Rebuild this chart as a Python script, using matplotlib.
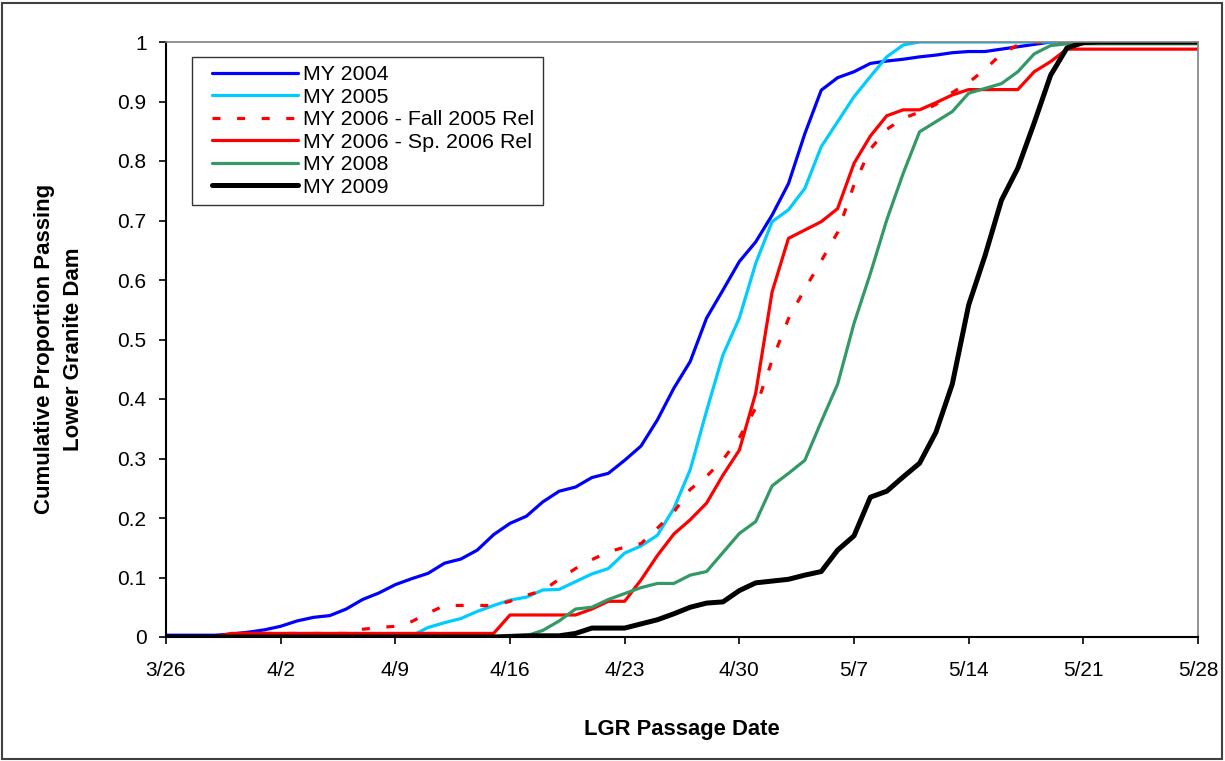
import matplotlib
matplotlib.use("Agg")
import matplotlib.pyplot as plt
from matplotlib.patches import Rectangle
from matplotlib.lines import Line2D
from matplotlib.legend_handler import HandlerLine2D

plt.rcParams['font.family'] = ['Liberation Sans', 'DejaVu Sans']

# Day index 0 = 3/26 ... 63 = 5/28
days = list(range(64))
tick_days = [0, 7, 14, 21, 28, 35, 42, 49, 56, 63]
tick_labels = ["3/26", "4/2", "4/9", "4/16", "4/23", "4/30", "5/7", "5/14", "5/21", "5/28"]
y_ticks = [0, 0.1, 0.2, 0.3, 0.4, 0.5, 0.6, 0.7, 0.8, 0.9, 1.0]
y_tick_labels = ["0", "0.1", "0.2", "0.3", "0.4", "0.5", "0.6", "0.7", "0.8", "0.9", "1"]

my2004 = [0.003, 0.003, 0.003, 0.003, 0.005, 0.008, 0.012, 0.018, 0.027, 0.033,
          0.036, 0.047, 0.063, 0.074, 0.088, 0.098, 0.107, 0.124, 0.131, 0.146,
          0.172, 0.191, 0.203, 0.227, 0.245, 0.252, 0.268, 0.275, 0.297, 0.321,
          0.365, 0.418, 0.463, 0.536, 0.583, 0.631, 0.664, 0.709, 0.762, 0.846,
          0.919, 0.940, 0.950, 0.964, 0.968, 0.971, 0.975, 0.978, 0.982, 0.984,
          0.984, 0.988, 0.992, 0.996, 1.0, 1.0, 1.0, 1.0, 1.0, 1.0,
          1.0, 1.0, 1.0, 1.0]

my2005 = [0, 0, 0, 0, 0, 0, 0, 0, 0, 0,
          0, 0, 0, 0, 0, 0.002, 0.016, 0.024, 0.031, 0.043,
          0.053, 0.062, 0.067, 0.079, 0.080, 0.093, 0.106, 0.115, 0.141, 0.153,
          0.171, 0.216, 0.281, 0.380, 0.474, 0.536, 0.628, 0.698, 0.718, 0.754,
          0.824, 0.866, 0.908, 0.942, 0.975, 0.995, 1.0, 1.0, 1.0, 1.0,
          1.0, 1.0, 1.0, 1.0, 1.0, 1.0, 1.0, 1.0, 1.0, 1.0,
          1.0, 1.0, 1.0, 1.0]

my2006_fall = [0, 0, 0, 0, 0.006, 0.006, 0.006, 0.006, 0.006, 0.006,
               0.006, 0.006, 0.013, 0.016, 0.018, 0.026, 0.040, 0.053, 0.053, 0.053,
               0.053, 0.060, 0.070, 0.078, 0.097, 0.115, 0.130, 0.143, 0.151, 0.157,
               0.183, 0.210, 0.248, 0.270, 0.298, 0.335, 0.385, 0.465, 0.535, 0.585,
               0.632, 0.680, 0.760, 0.820, 0.853, 0.872, 0.882, 0.895, 0.915, 0.932,
               0.954, 0.980, 0.995, 1.0, 1.0, 1.0, 1.0, 1.0, 1.0, 1.0,
               1.0, 1.0, 1.0, 1.0]

my2006_spring = [0, 0, 0, 0, 0.006, 0.006, 0.006, 0.006, 0.006, 0.006,
                 0.006, 0.006, 0.006, 0.006, 0.006, 0.006, 0.006, 0.006, 0.006, 0.006,
                 0.006, 0.037, 0.037, 0.037, 0.037, 0.037, 0.047, 0.060, 0.060, 0.096,
                 0.137, 0.173, 0.197, 0.225, 0.272, 0.314, 0.410, 0.580, 0.670, 0.684,
                 0.698, 0.720, 0.796, 0.842, 0.876, 0.886, 0.886, 0.898, 0.911, 0.920,
                 0.920, 0.920, 0.920, 0.950, 0.967, 0.988, 0.988, 0.988, 0.988, 0.988,
                 0.988, 0.988, 0.988, 0.988]

my2008 = [0, 0, 0, 0, 0, 0, 0, 0, 0, 0,
          0, 0, 0, 0, 0, 0, 0, 0, 0, 0,
          0, 0, 0.002, 0.011, 0.027, 0.047, 0.050, 0.063, 0.073, 0.083,
          0.090, 0.090, 0.104, 0.110, 0.142, 0.174, 0.194, 0.254, 0.275, 0.297,
          0.362, 0.425, 0.527, 0.611, 0.701, 0.779, 0.849, 0.866, 0.883, 0.914,
          0.922, 0.930, 0.950, 0.980, 0.994, 0.997, 0.997, 0.997, 0.997, 0.997,
          0.997, 0.997, 0.997, 0.997]

my2009 = [0, 0, 0, 0, 0, 0, 0, 0, 0, 0,
          0, 0, 0, 0, 0, 0, 0, 0, 0, 0,
          0, 0.001, 0.002, 0.002, 0.002, 0.006, 0.015, 0.015, 0.015, 0.022,
          0.029, 0.039, 0.050, 0.057, 0.059, 0.078, 0.091, 0.094, 0.097, 0.104,
          0.110, 0.146, 0.170, 0.235, 0.245, 0.269, 0.292, 0.344, 0.425, 0.558,
          0.641, 0.734, 0.788, 0.864, 0.944, 0.990, 0.999, 1.0, 1.0, 1.0,
          1.0, 1.0, 1.0, 1.0]

W, H = 1225, 761
fig = plt.figure(figsize=(W / 100, H / 100), dpi=100)
ax = fig.add_axes([166 / W, 1 - 637 / H, (1198 - 166) / W, (637 - 42) / H])

lw = 2.3
ax.plot(days, my2004, color='#0000FF', lw=lw, label='MY 2004', solid_capstyle='round')
ax.plot(days, my2005, color='#00CCFF', lw=lw, label='MY 2005', solid_capstyle='round')
ax.plot(days, my2006_fall, color='#FF0000', lw=lw, label='MY 2006 - Fall 2005 Rel',
        linestyle=(0, (2.5, 5.2)))
ax.plot(days, my2006_spring, color='#FF0000', lw=lw, label='MY 2006 - Sp. 2006 Rel',
        solid_capstyle='round')
ax.plot(days, my2008, color='#339966', lw=lw, label='MY 2008', solid_capstyle='round')
ax.plot(days, my2009, color='#000000', lw=3.6, label='MY 2009', solid_capstyle='round')

ax.set_xlim(0, 63)
ax.set_ylim(0, 1)
ax.set_xticks(tick_days)
ax.set_xticklabels(tick_labels)
ax.set_yticks(y_ticks)
ax.set_yticklabels(y_tick_labels)
ax.tick_params(axis='both', direction='out', length=5, width=1.2, labelsize=15, color='black')
ax.tick_params(axis='y', pad=9)
ax.tick_params(axis='x', pad=12)

for s in ['left', 'bottom']:
    ax.spines[s].set_color('black')
    ax.spines[s].set_linewidth(1.5)
for s in ['top', 'right']:
    ax.spines[s].set_color('#808080')
    ax.spines[s].set_linewidth(1.2)

leg_fs = 15.4
leg = ax.legend(loc='upper left', bbox_to_anchor=(0.025, 0.975), borderaxespad=0,
                fontsize=leg_fs, frameon=True, fancybox=False, edgecolor='black',
                handlelength=4.55, handletextpad=0.25, labelspacing=0.16,
                borderpad=0.4,
                handler_map={Line2D: HandlerLine2D(xpad=0.55)})
leg.get_frame().set_linewidth(1.0)

fig.text(59 / W, 1 - 349 / H, "Cumulative Proportion Passing\nLower Granite Dam",
         rotation=90, ha='center', va='center', fontsize=16, fontweight='bold',
         multialignment='center', linespacing=1.48)
fig.text(682 / W, 1 - 729 / H, "LGR Passage Date", ha='center', va='center',
         fontsize=15.8, fontweight='bold')

fig.patches.append(Rectangle((2 / W, 2 / H), (W - 5) / W, (H - 5) / H,
                             transform=fig.transFigure, fill=False,
                             edgecolor='#404040', linewidth=1.5))

fig.savefig("out.png", dpi=100)
